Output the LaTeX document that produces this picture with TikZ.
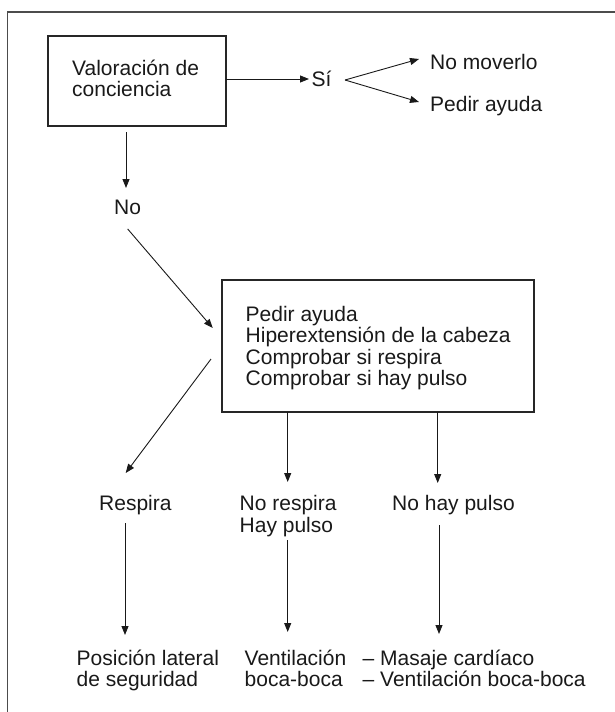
\documentclass[tikz,border=0pt]{standalone}
\usepackage{fontspec}
\setmainfont{Liberation Sans}
\usetikzlibrary{arrows.meta}
\begin{document}
\begin{tikzpicture}[x=1pt,y=-1pt,
  txt/.style={inner sep=0pt, anchor=base west, align=left, font=\fontsize{21}{21.5}\selectfont, text=black!90},
  boxst/.style={draw=black!85, line width=1.1pt, rectangle, inner sep=0pt},
  arr/.style={draw=black!90, line width=0.9pt, -{Triangle[length=9pt,width=7pt]}},
  framest/.style={draw=black!70, line width=1.4pt}]
\useasboundingbox (0,0) rectangle (615,712);
\draw[framest] (7.5,716) -- (7.5,12) -- (619,12);

% boxes
\node[boxst, minimum width=178pt, minimum height=90pt] (box1) at (137,81) {};
\node[boxst, minimum width=312pt, minimum height=132pt] (box2) at (378,346) {};

% texts (multi-line nodes are anchored at the baseline of their last line)
\node[txt] (t1) at (72,96.5) {Valoración de\\conciencia};
\node[txt] (si) at (311.5,86) {Sí};
\node[txt] (nomov) at (430,69.5) {No moverlo};
\node[txt] (pedir) at (430,111.5) {Pedir ayuda};
\node[txt] (no) at (114,214) {No};
\node[txt] (t2) at (245.5,385.5) {Pedir ayuda\\Hiperextensión de la cabeza\\Comprobar si respira\\Comprobar si hay pulso};
\node[txt] (resp) at (99,510.5) {Respira};
\node[txt] (noresp) at (239.5,532) {No respira\\Hay pulso};
\node[txt] (nopulso) at (392,510.5) {No hay pulso};
\node[txt] (pos) at (76.5,686.5) {Posición lateral\\de seguridad};
\node[txt] (vent) at (244.5,686.5) {Ventilación\\boca-boca};
\node[txt] (masaje) at (362.5,686.5) {– Masaje cardíaco\\– Ventilación boca-boca};

% connector end points
\coordinate (a1s) at (226,79);
\coordinate (a1e) at (309,79);
\coordinate (fork) at (345,80);
\coordinate (f1) at (419,59);
\coordinate (f2) at (419,102);
\coordinate (d0s) at (126,132);
\coordinate (d0e) at (126,188);
\coordinate (d1s) at (127.7,229);
\coordinate (d1e) at (212.7,328);
\coordinate (d2s) at (211,359);
\coordinate (d2e) at (125.7,473);
\coordinate (b2a) at (287.7,412);
\coordinate (b2ae) at (287.7,482);
\coordinate (b2b) at (437.7,412);
\coordinate (b2be) at (437.7,483);
\coordinate (l1s) at (125,523);
\coordinate (l1e) at (125,635);
\coordinate (l2s) at (287.7,540);
\coordinate (l2e) at (287.7,632);
\coordinate (l3s) at (439,525);
\coordinate (l3e) at (439,634);

% connectors
\draw[arr] (a1s) -- (a1e);
\draw[arr] (fork) -- (f1);
\draw[arr] (fork) -- (f2);
\draw[arr] (d0s) -- (d0e);
\draw[arr] (d1s) -- (d1e);
\draw[arr] (d2s) -- (d2e);
\draw[arr] (b2a) -- (b2ae);
\draw[arr] (b2b) -- (b2be);
\draw[arr] (l1s) -- (l1e);
\draw[arr] (l2s) -- (l2e);
\draw[arr] (l3s) -- (l3e);
\end{tikzpicture}
\end{document}
